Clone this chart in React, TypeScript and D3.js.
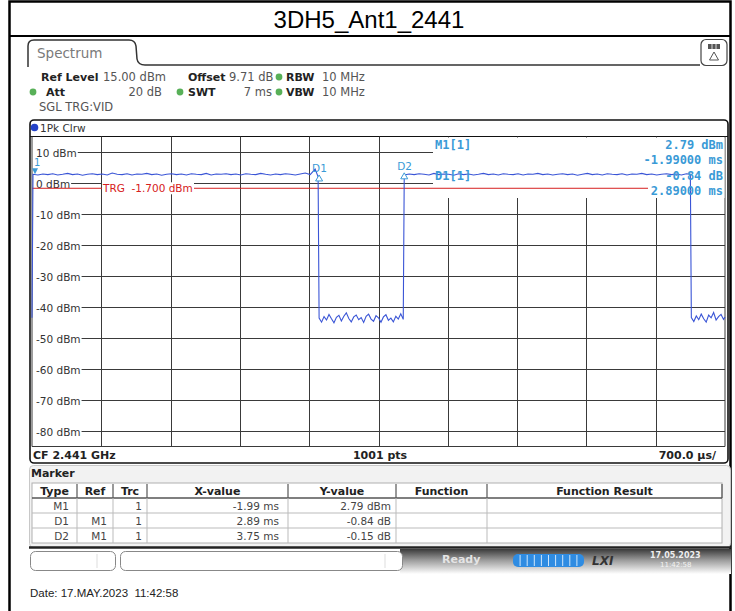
import React from "react";
import * as d3 from "d3";

// trace 1 (1Pk Clrw), time in ms relative to trigger, level in dBm
const traceMs = [
  -2.0, -1.99, -1.94, -1.89, -1.84, -1.79, -1.74, -1.69, -1.64, -1.59, -1.54, -1.49, -1.44, -1.39,
  -1.34, -1.29, -1.24, -1.19, -1.14, -1.09, -1.04, -0.99, -0.94, -0.89, -0.84, -0.79, -0.74,
  -0.69, -0.64, -0.59, -0.54, -0.49, -0.44, -0.39, -0.34, -0.29, -0.24, -0.19, -0.14, -0.09,
  -0.04, 0.01, 0.06, 0.11, 0.16, 0.21, 0.26, 0.31, 0.36, 0.41, 0.46, 0.51, 0.56, 0.61, 0.66,
  0.71, 0.76, 0.81, 0.86, 0.89,
  0.9, 0.925, 0.95, 0.975, 1.0, 1.025, 1.05, 1.075, 1.1, 1.125, 1.15, 1.175, 1.2, 1.225, 1.25,
  1.275, 1.3, 1.325, 1.35, 1.375, 1.4, 1.425, 1.45, 1.475, 1.5, 1.525, 1.55, 1.575, 1.6, 1.625,
  1.65, 1.675, 1.7, 1.725, 1.75,
  1.76, 1.81, 1.86, 1.91, 1.96, 2.01, 2.06, 2.11, 2.16, 2.21, 2.26, 2.31, 2.36, 2.41, 2.46, 2.51,
  2.56, 2.61, 2.66, 2.71, 2.76, 2.81, 2.86, 2.91, 2.96, 3.01, 3.06, 3.11, 3.16, 3.21, 3.26, 3.31,
  3.36, 3.41, 3.46, 3.51, 3.56, 3.61, 3.66, 3.71, 3.76, 3.81, 3.86, 3.91, 3.96, 4.01, 4.06, 4.11,
  4.16, 4.21, 4.26, 4.31, 4.36, 4.41, 4.46, 4.51, 4.56, 4.61, 4.65,
  4.66, 4.685, 4.71, 4.735, 4.76, 4.785, 4.81, 4.835, 4.86, 4.885, 4.91, 4.935, 4.96, 4.985, 5.0,
];
const traceDbm = [
  -43.5, 2.8, 2.6, 2.9, 2.7, 3.0, 2.6, 2.8, 3.1, 2.7, 2.9, 2.5, 2.8, 3.0,
  2.7, 2.9, 2.6, 3.2, 2.8, 2.7, 3.0, 2.6, 2.9, 2.8, 3.1, 2.7, 2.9,
  2.5, 2.8, 3.0, 2.7, 2.9, 2.6, 3.0, 2.8, 2.7, 3.1, 2.6, 2.9, 2.8,
  3.0, 2.7, 2.9, 2.6, 3.0, 2.8, 2.7, 3.1, 2.8, 2.6, 2.9, 2.7, 3.0, 2.8, 2.6,
  2.9, 3.2, 2.7, 4.5, 2.0,
  -43.6, -44.9, -43.1, -44.2, -42.4, -43.8, -45.1, -43.3, -42.7, -44.5, -43.0, -41.9, -43.7, -44.8, -43.2,
  -42.6, -44.1, -43.4, -45.0, -43.0, -42.3, -43.9, -44.6, -42.8, -43.5, -44.9, -43.2, -42.5, -44.3, -43.6,
  -44.8, -43.0, -43.9, -42.2, -44.0,
  2.6, 2.9, 2.7, 3.0, 2.8, 2.6, 3.1, 2.7, 2.9, 2.8, 2.5, 3.0, 2.7, 2.9, 2.6, 2.8,
  3.1, 2.7, 2.9, 2.6, 3.0, 2.8, 2.7, 3.0, 2.6, 2.9, 2.8, 3.1, 2.7, 2.9, 2.6, 2.8,
  3.0, 2.7, 2.9, 2.5, 2.8, 3.1, 2.7, 2.9, 2.6, 3.0, 2.8, 2.7, 3.0, 2.6, 2.9, 2.8,
  3.1, 2.7, 2.9, 2.6, 2.8, 3.0, 2.7, 2.9, 2.6, 3.0, 2.8,
  -43.4, -44.7, -42.9, -44.1, -42.3, -43.8, -44.9, -42.6, -43.5, -41.8, -44.2, -43.1, -42.4, -44.0, -43.2,
];

const levelTicks = [10, 0, -10, -20, -30, -40, -50, -60, -70, -80];
const trgLevel = -1.7;

const markerType = ["M1", "D1", "D2"];
const markerRef = ["", "M1", "M1"];
const markerTrc = ["1", "1", "1"];
const markerXValue = ["-1.99 ms", "2.89 ms", "3.75 ms"];
const markerYValue = ["2.79 dBm", "-0.84 dB", "-0.15 dB"];
const markerMs = [-1.99, 2.89, 3.75];
const markerDb = [2.79, -0.84, -0.15];
const tableHeaders = ["Type", "Ref", "Trc", "X-value", "Y-value", "Function", "Function Result"];

const SANS = "DejaVu Sans";
const MONO = "DejaVu Sans Mono";
const TRACE = "#3a55d6";
const MK = "#3a9ad6";

const measure = (s: string, font: string) => {
  const ctx = document.createElement("canvas").getContext("2d");
  if (!ctx) return s.length * 6;
  ctx.font = font;
  return ctx.measureText(s).width;
};

const App: React.FC = () => {
  const left = 32;
  const right = 725;
  const top = 136.5;
  const bottom = 446.5;

  const x = d3.scaleLinear().domain([-2, 5]).range([left, right]);
  const y = d3.scaleLinear().domain([-85, 15]).range([bottom, top]);

  const line = d3
    .line<number>()
    .x((d, i) => x(traceMs[i]))
    .y((d) => y(d));

  const divs = d3.range(1, 10).map((k) => -2 + k * 0.7);
  const boxLeft = 433;
  const boxBottom = 198;

  // marker positions on screen (deltas are relative to M1)
  const mPos = markerType.map((t, i) => {
    const ms = i === 0 ? markerMs[0] : markerMs[0] + markerMs[i];
    const db = i === 0 ? markerDb[0] : markerDb[0] + markerDb[i];
    return { ms, db };
  });

  const cols = [32, 77, 113, 147, 288, 396, 487, 722];
  const pads = [8, 6, 5, 9, 5];
  const tblTop = 483;
  const rowH = 15;

  const label = { fontWeight: "bold" as const, fill: "#222", fontSize: 11 };

  return (
    <svg
      width={735}
      height={611}
      style={{ position: "absolute", left: 0, top: 0, background: "#fff" }}
      fontFamily={SANS}
    >
      <defs>
        <linearGradient id="status" x1="0" y1="0" x2="0" y2="1">
          <stop offset="0" stopColor="#3a3a3a" />
          <stop offset="0.45" stopColor="#9c9c9c" />
          <stop offset="1" stopColor="#ffffff" />
        </linearGradient>
      </defs>

      {/* outer frame + title */}
      <rect x={9.5} y={1.5} width={721} height={640} fill="none" stroke="#000" strokeWidth={2.5} />
      <line x1={9} x2={731} y1={36} y2={36} stroke="#000" strokeWidth={2} />
      <text x={369} y={27.5} textAnchor="middle" fontFamily="Liberation Sans" fontSize={24} fill="#000">
        3DH5_Ant1_2441
      </text>

      {/* spectrum tab */}
      <path
        d="M28,67 L28,46 Q28,40 34,40 L129,40 Q135,40 136,46 L137,59 Q138,65 145,65 L700,65"
        fill="none"
        stroke="#333"
        strokeWidth={1.5}
      />
      <text x={37} y={58} fontSize={13.5} fill="#7a7a7a">Spectrum</text>
      <rect x={701} y={39.5} width={26} height={26} rx={5} fill="#fff" stroke="#444" strokeWidth={1.2} />
      <rect x={708} y={44} width={12} height={5} fill="#555" />
      <line x1={712} x2={712} y1={44} y2={49} stroke="#fff" strokeWidth={0.8} />
      <line x1={716} x2={716} y1={44} y2={49} stroke="#fff" strokeWidth={0.8} />
      <path d="M714,52 L709.5,60 L718.5,60 Z" fill="none" stroke="#555" strokeWidth={1} />

      {/* setting lines */}
      <g fontSize={11.5} fill="#555">
        <text x={41} y={81} {...label}>Ref Level</text>
        <text x={103} y={81}>15.00 dBm</text>
        <text x={188} y={81} {...label}>Offset</text>
        <text x={229} y={81}>9.71 dB</text>
        <circle cx={279} cy={77} r={3.4} fill="#58b058" />
        <text x={286} y={81} {...label}>RBW</text>
        <text x={322} y={81}>10 MHz</text>

        <circle cx={33} cy={92} r={3.4} fill="#58b058" />
        <text x={46} y={96} {...label}>Att</text>
        <text x={162} y={96} textAnchor="end">20 dB</text>
        <circle cx={180} cy={92} r={3.4} fill="#58b058" />
        <text x={188} y={96} {...label}>SWT</text>
        <text x={272} y={96} textAnchor="end">7 ms</text>
        <circle cx={279} cy={92} r={3.4} fill="#58b058" />
        <text x={286} y={96} {...label}>VBW</text>
        <text x={322} y={96}>10 MHz</text>

        <text x={39} y={111}>SGL TRG:VID</text>
      </g>

      {/* trace window frame */}
      <rect x={30} y={120} width={698} height={343} rx={4} fill="#fff" stroke="#111" strokeWidth={1.6} />
      <line x1={30} x2={728} y1={top} y2={top} stroke="#111" strokeWidth={1.2} />
      <circle cx={34.5} cy={127.5} r={3.8} fill="#2443c8" />
      <text x={40} y={131.5} fontSize={10.5} fill="#333">1Pk Clrw</text>

      {/* grid */}
      <g stroke="#3a3a3a" strokeWidth={1}>
        {divs.map((t) => (
          <line key={t} x1={Math.round(x(t)) + 0.5} x2={Math.round(x(t)) + 0.5} y1={top} y2={bottom} />
        ))}
        <line x1={left} x2={left} y1={top} y2={bottom} />
        <line x1={right} x2={right} y1={top} y2={bottom} />
        <line x1={left} x2={right} y1={bottom} y2={bottom} />
      </g>
      <rect x={boxLeft} y={top + 1} width={right - boxLeft - 0.5} height={boxBottom - top - 1} fill="#fff" />
      <g>
        {levelTicks.map((v) => {
          const lbl = `${v} dBm`;
          const w = measure(lbl, `10.5px ${SANS}`);
          const yy = Math.round(y(v)) + 0.5;
          const x2 = v >= 0 ? boxLeft : right;
          return (
            <g key={v}>
              <line x1={36 + w + 1} x2={x2} y1={yy} y2={yy} stroke="#3a3a3a" strokeWidth={1} />
              <text x={36} y={yy + 4} fontSize={10.5} fill="#333">{lbl}</text>
            </g>
          );
        })}
      </g>

      {/* trigger level */}
      <line x1={left} x2={648} y1={y(trgLevel)} y2={y(trgLevel)} stroke="#d62020" strokeWidth={1} />
      <rect x={102} y={y(trgLevel) - 6} width={92} height={12} fill="#fff" />
      <text x={103} y={y(trgLevel) + 4} fontSize={10.5} fill="#d62020" xmlSpace="preserve">
        TRG  -1.700 dBm
      </text>

      {/* trace */}
      <path d={line(traceDbm) || ""} fill="none" stroke={TRACE} strokeWidth={1.1} />

      {/* markers */}
      <path
        d={`M${x(mPos[0].ms) - 1},${y(mPos[0].db) - 6} L${x(mPos[0].ms) + 5},${y(mPos[0].db) - 6} L${x(mPos[0].ms) + 2},${y(mPos[0].db)} Z`}
        fill={MK}
      />
      <text x={34} y={166} fontSize={10} fill={MK}>1</text>
      {[1, 2].map((i) => {
        const px = x(mPos[i].ms);
        const py = y(mPos[i].db);
        return (
          <g key={i}>
            <path d={`M${px},${py - 2} L${px - 3.5},${py + 4} L${px + 3.5},${py + 4} Z`} fill="#fff" stroke={MK} strokeWidth={1} />
            <text x={px - 7} y={py - 5} fontSize={10.5} fill={MK}>{markerType[i]}</text>
          </g>
        );
      })}

      {/* marker readout */}
      <g fontFamily={MONO} fontWeight="bold" fontSize={12} fill={MK}>
        <text x={435} y={149}>M1[1]</text>
        <text x={723} y={149} textAnchor="end">2.79 dBm</text>
        <text x={723} y={164} textAnchor="end">-1.99000 ms</text>
        <text x={435} y={180}>D1[1]</text>
        <text x={723} y={180} textAnchor="end">-0.84 dB</text>
        <text x={723} y={195} textAnchor="end">2.89000 ms</text>
      </g>

      {/* footer of diagram */}
      <g fontSize={11} fontWeight="bold" fill="#222">
        <text x={33} y={459}>CF 2.441 GHz</text>
        <text x={380} y={459} textAnchor="middle">1001 pts</text>
        <text x={716} y={459} textAnchor="end">700.0 µs/</text>
      </g>

      {/* marker table */}
      <rect x={29.5} y={465.5} width={701} height={82} rx={4} fill="#f2f2f2" stroke="#c8c8c8" strokeWidth={1} />
      <text x={31} y={477} fontSize={11} fontWeight="bold" fill="#222">Marker</text>
      <rect x={cols[0]} y={tblTop} width={cols[7] - cols[0]} height={rowH * 4} fill="#fff" stroke="#b0b0b0" strokeWidth={1} />
      <line x1={cols[0]} x2={cols[7]} y1={tblTop + rowH} y2={tblTop + rowH} stroke="#555" strokeWidth={1.3} />
      {[2, 3].map((r) => (
        <line key={r} x1={cols[0]} x2={cols[7]} y1={tblTop + rowH * r} y2={tblTop + rowH * r} stroke="#bbb" strokeWidth={1} />
      ))}
      {cols.slice(1, 7).map((c) => (
        <g key={c}>
          <line x1={c} x2={c} y1={tblTop + 1} y2={tblTop + rowH} stroke="#555" strokeWidth={1.2} />
          <line x1={c} x2={c} y1={tblTop + rowH} y2={tblTop + rowH * 4} stroke="#bbb" strokeWidth={1} />
        </g>
      ))}
      <line x1={cols[7]} x2={cols[7]} y1={tblTop + 1} y2={tblTop + rowH} stroke="#555" strokeWidth={1.2} />
      <g fontSize={11} fontWeight="bold" fill="#222" textAnchor="middle">
        {tableHeaders.map((h, i) => (
          <text key={h} x={(cols[i] + cols[i + 1]) / 2} y={tblTop + 11.5}>{h}</text>
        ))}
      </g>
      <g fontSize={10.5} fill="#444" textAnchor="end">
        {markerType.map((t, i) => {
          const yy = tblTop + rowH * (i + 1) + 11.5;
          const cells = [t, markerRef[i], markerTrc[i], markerXValue[i], markerYValue[i]];
          return (
            <g key={t}>
              {cells.map((c, j) => (
                <text key={j} x={cols[j + 1] - pads[j]} y={yy}>{c}</text>
              ))}
            </g>
          );
        })}
      </g>
      <line x1={29} x2={731} y1={547.5} y2={547.5} stroke="#222" strokeWidth={2.5} />

      {/* status bar */}
      <rect x={400} y={549} width={331} height={25} fill="url(#status)" />
      <rect x={30.5} y={551.5} width={85} height={19} rx={5} fill="#fff" stroke="#888" strokeWidth={1} />
      <line x1={97} x2={97} y1={554} y2={568} stroke="#ddd" />
      <rect x={120.5} y={551.5} width={282} height={19} rx={5} fill="#fff" stroke="#888" strokeWidth={1} />
      <line x1={385} x2={385} y1={554} y2={568} stroke="#ddd" />
      <text x={442} y={563} fontSize={11} fontWeight="bold" fill="#e4e4e4">Ready</text>
      <rect x={513} y={554} width={71} height={13} rx={5} fill="#2f8ce2" />
      {d3.range(1, 10).map((k) => (
        <line key={k} x1={513 + k * 7.1} x2={513 + k * 7.1} y1={555} y2={566} stroke="#cfe6fb" strokeWidth={1} />
      ))}
      <text x={592} y={565} fontSize={12} fontWeight="bold" fontStyle="italic" fill="#333">LXI</text>
      <text x={650} y={558} fontSize={8} fontWeight="bold" fill="#eee">17.05.2023</text>
      <text x={660} y={567} fontSize={7} fill="#f4f4f4">11:42:58</text>

      <text x={30} y={597} fontFamily="Liberation Sans" fontSize={11.5} fill="#222" xmlSpace="preserve">
        Date: 17.MAY.2023  11:42:58
      </text>
    </svg>
  );
};

export default App;
